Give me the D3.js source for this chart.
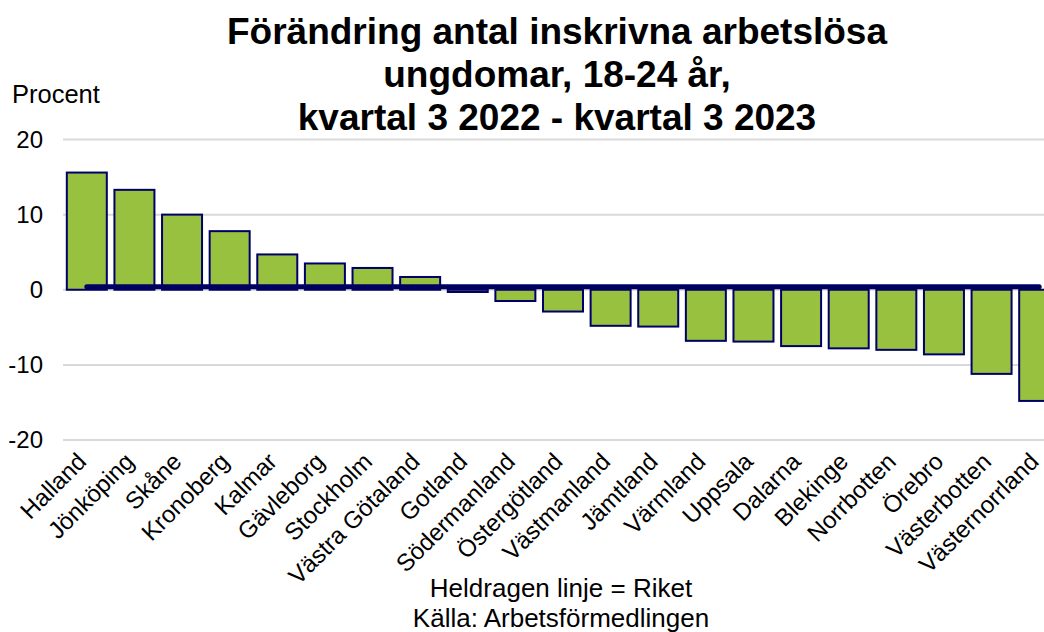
<!DOCTYPE html>
<html>
<head>
<meta charset="utf-8">
<script src="https://cdn.jsdelivr.net/npm/d3@7"></script>
<style>
  body { margin: 0; background: #fff; }
  text { font-family: "Liberation Sans", Arial, sans-serif; fill: #000; }
</style>
</head>
<body>
<div class="chart"></div>
<script>
// chart size
let FRAME_WIDTH = 1044;
let FRAME_HEIGHT = 632;

// data
const counties = ["Halland", "Jönköping", "Skåne", "Kronoberg", "Kalmar", "Gävleborg",
  "Stockholm", "Västra Götaland", "Gotland", "Södermanland", "Östergötland", "Västmanland",
  "Jämtland", "Värmland", "Uppsala", "Dalarna", "Blekinge", "Norrbotten", "Örebro",
  "Västerbotten", "Västernorrland"];
const change = [15.6, 13.3, 10.0, 7.8, 4.7, 3.5, 2.9, 1.7, -0.3, -1.5, -2.9, -4.8,
  -4.9, -6.8, -6.9, -7.5, -7.8, -8.0, -8.6, -11.2, -14.8];
const riket = 0.4;
const yTicks = [20, 10, 0, -10, -20];
const titleLines = ["Förändring antal inskrivna arbetslösa", "ungdomar, 18-24 år,", "kvartal 3 2022 - kvartal 3 2023"];
const noteLines = ["Heldragen linje = Riket", "Källa: Arbetsförmedlingen"];

let svg = d3.select(".chart")
  .append("svg")
  .attr("width", FRAME_WIDTH)
  .attr("height", FRAME_HEIGHT);

// scales
const xScale = d3.scaleBand()
  .domain(counties)
  .range([63, 1063])
  .paddingInner(0.16)
  .paddingOuter(0.08);

const yScale = d3.scaleLinear()
  .domain([-20, 20])
  .range([440, 139.5]);

// gridlines
svg.append("g")
  .selectAll("line")
  .data(yTicks)
  .enter().append("line")
  .attr("x1", 63)
  .attr("x2", FRAME_WIDTH)
  .attr("y1", d => yScale(d))
  .attr("y2", d => yScale(d))
  .attr("stroke", "#d9d9d9")
  .attr("stroke-width", 2);

// y tick labels
svg.append("g")
  .selectAll("text")
  .data(yTicks)
  .enter().append("text")
  .attr("x", 43)
  .attr("y", d => yScale(d))
  .attr("dy", "0.35em")
  .attr("text-anchor", "end")
  .attr("font-size", "24px")
  .text(d => d);

svg.append("text")
  .attr("x", 12)
  .attr("y", 103)
  .attr("font-size", "25.5px")
  .text("Procent");

// bars
svg.append("g")
  .selectAll("rect")
  .data(counties)
  .enter().append("rect")
  .attr("x", d => xScale(d))
  .attr("width", xScale.bandwidth())
  .attr("y", (d, i) => yScale(Math.max(0, change[i])))
  .attr("height", (d, i) => Math.abs(yScale(change[i]) - yScale(0)))
  .attr("fill", "#98c13f")
  .attr("stroke", "#000066")
  .attr("stroke-width", 2);

// riket line
let half = xScale.bandwidth() / 2;
svg.append("line")
  .attr("x1", xScale(counties[0]) + half)
  .attr("x2", xScale(counties[counties.length - 1]) + half)
  .attr("y1", yScale(riket))
  .attr("y2", yScale(riket))
  .attr("stroke", "#000060")
  .attr("stroke-width", 5)
  .attr("stroke-linecap", "round");

// category labels
svg.append("g")
  .selectAll("text")
  .data(counties)
  .enter().append("text")
  .attr("transform", d => "translate(" + (xScale(d) + half + 1) + ",463) rotate(-45)")
  .attr("text-anchor", "end")
  .attr("font-size", "24px")
  .text(d => d);

// title
svg.append("g")
  .selectAll("text")
  .data(titleLines)
  .enter().append("text")
  .attr("x", 557)
  .attr("y", (d, i) => 44 + i * 43)
  .attr("text-anchor", "middle")
  .attr("font-size", "37px")
  .attr("font-weight", "bold")
  .text(d => d);

// notes
svg.append("g")
  .selectAll("text")
  .data(noteLines)
  .enter().append("text")
  .attr("x", 561)
  .attr("y", (d, i) => 597 + i * 30)
  .attr("text-anchor", "middle")
  .attr("font-size", "26px")
  .text(d => d);
</script>
</body>
</html>
